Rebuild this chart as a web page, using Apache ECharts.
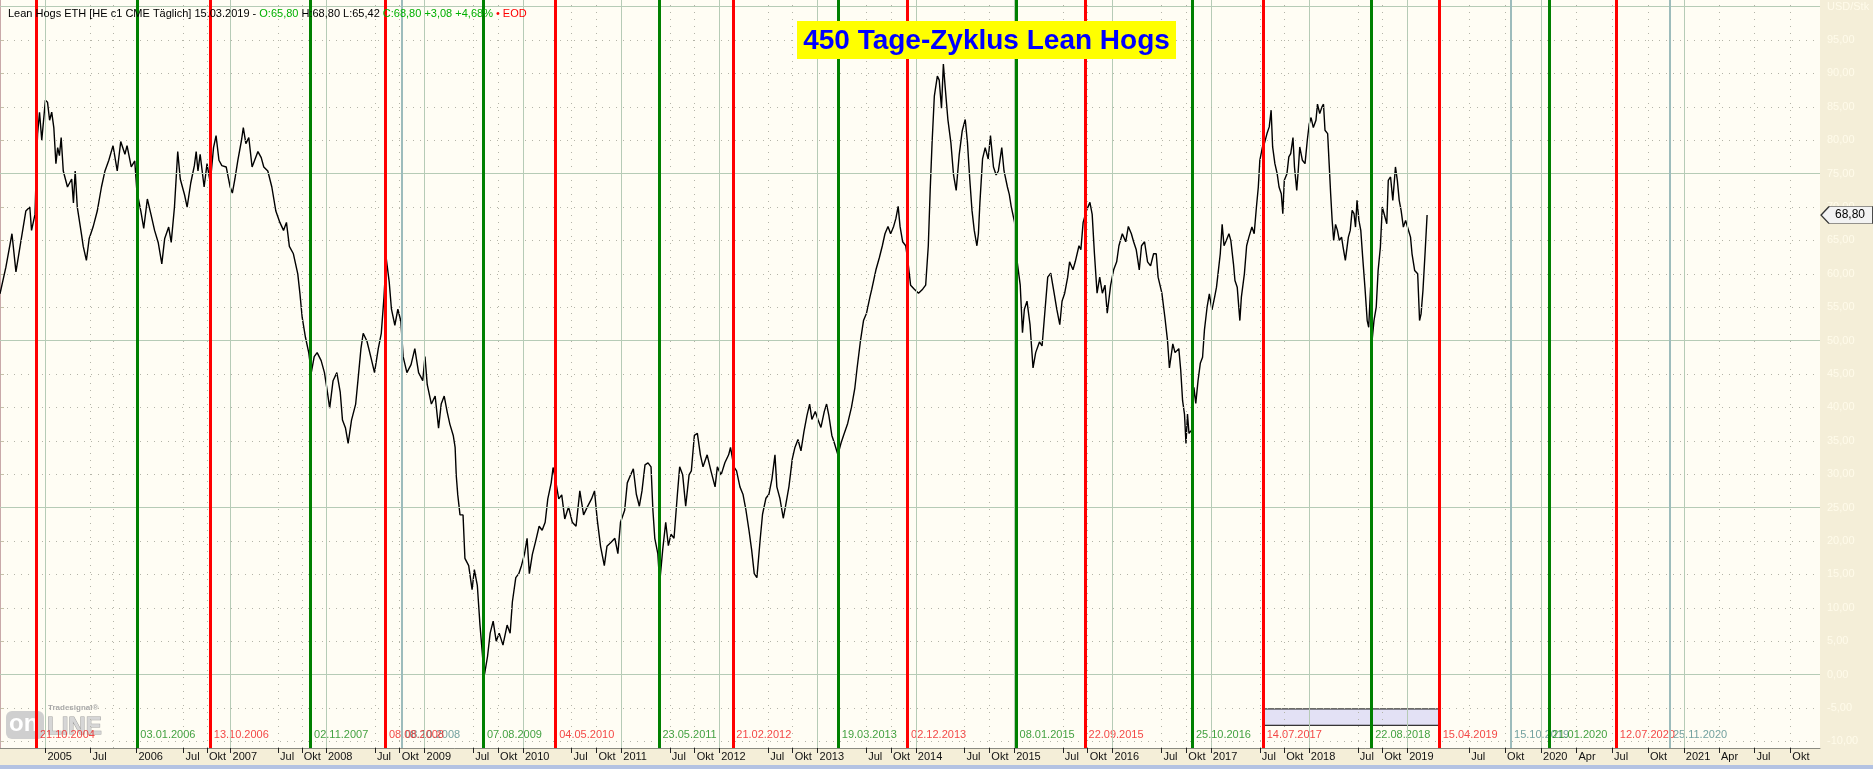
<!DOCTYPE html>
<html>
<head>
<meta charset="utf-8">
<title>450 Tage-Zyklus Lean Hogs</title>
<script src="https://cdn.jsdelivr.net/npm/echarts@6/dist/echarts.min.js"></script>
<style>
  html, body { margin: 0; padding: 0; background: #f4eed8; }
  #chart { width: 1873px; height: 769px; }
</style>
</head>
<body>
<div id="chart"></div>
<script>
// Kursdaten (HE c1 back-adjusted)
const priceDates = [
  '2004-01-01','2004-02-18','2004-04-07','2004-05-08','2004-06-10','2004-07-28','2004-08-29','2004-09-13','2004-10-09','2004-10-22',
  '2004-11-01','2004-11-16','2004-12-03','2005-01-03','2005-01-11','2005-01-19','2005-01-27','2005-02-04','2005-02-12','2005-02-19',
  '2005-02-27','2005-03-07','2005-03-15','2005-03-31','2005-04-16','2005-04-24','2005-05-02','2005-05-10','2005-05-26','2005-06-02',
  '2005-06-15','2005-06-26','2005-07-12','2005-07-28','2005-08-13','2005-08-29','2005-09-13','2005-09-29','2005-10-15','2005-10-31',
  '2005-11-16','2005-11-24','2005-12-10','2005-12-26','2006-01-03','2006-01-18','2006-01-29','2006-02-13','2006-02-25','2006-03-13',
  '2006-03-25','2006-04-09','2006-04-20','2006-05-05','2006-05-16','2006-05-28','2006-06-09','2006-06-20','2006-07-06','2006-07-16',
  '2006-07-29','2006-08-13','2006-08-21','2006-08-28','2006-09-05','2006-09-20','2006-10-01','2006-10-13','2006-10-26','2006-11-05',
  '2006-11-16','2006-11-28','2006-12-14','2006-12-29','2007-01-08','2007-01-17','2007-01-29','2007-02-10','2007-02-18','2007-02-28',
  '2007-03-12','2007-03-23','2007-04-03','2007-04-15','2007-04-27','2007-05-08','2007-05-23','2007-06-07','2007-06-22','2007-07-07',
  '2007-07-22','2007-08-02','2007-08-14','2007-08-29','2007-09-14','2007-09-22','2007-10-02','2007-10-14','2007-10-26','2007-11-06',
  '2007-11-16','2007-11-28','2007-12-13','2007-12-26','2008-01-05','2008-01-15','2008-01-27','2008-02-10','2008-02-22','2008-03-03',
  '2008-03-13','2008-03-24','2008-04-04','2008-04-19','2008-04-29','2008-05-09','2008-05-18','2008-06-01','2008-06-15','2008-06-30',
  '2008-07-14','2008-07-24','2008-08-03','2008-08-12','2008-08-22','2008-09-01','2008-09-12','2008-09-24','2008-10-04','2008-10-14',
  '2008-10-28','2008-11-12','2008-11-26','2008-12-10','2008-12-25','2009-01-02','2009-01-12','2009-01-27','2009-02-10','2009-02-21',
  '2009-03-04','2009-03-16','2009-03-26','2009-04-05','2009-04-17','2009-04-24','2009-04-29','2009-05-05','2009-05-13','2009-05-23',
  '2009-05-31','2009-06-14','2009-06-26','2009-07-06','2009-07-16','2009-07-25','2009-08-04','2009-08-11','2009-08-23','2009-09-02',
  '2009-09-13','2009-09-24','2009-10-06','2009-10-20','2009-11-04','2009-11-14','2009-11-24','2009-12-06','2009-12-17','2009-12-27',
  '2010-01-07','2010-01-16','2010-01-26','2010-02-05','2010-02-17','2010-03-03','2010-03-15','2010-03-25','2010-04-04','2010-04-16',
  '2010-04-23','2010-05-03','2010-05-14','2010-05-26','2010-06-06','2010-06-19','2010-07-04','2010-07-18','2010-08-02','2010-08-16',
  '2010-08-30','2010-09-14','2010-09-24','2010-10-05','2010-10-17','2010-10-30','2010-11-10','2010-11-25','2010-12-09','2010-12-21',
  '2010-12-30','2011-01-14','2011-01-25','2011-02-06','2011-02-16','2011-02-27','2011-03-10','2011-03-21','2011-03-31','2011-04-12',
  '2011-04-22','2011-04-29','2011-05-06','2011-05-18','2011-05-25','2011-06-04','2011-06-16','2011-06-26','2011-07-06','2011-07-17',
  '2011-07-29','2011-08-08','2011-08-18','2011-08-30','2011-09-10','2011-09-20','2011-09-30','2011-10-12','2011-10-24','2011-11-02',
  '2011-11-17','2011-12-01','2011-12-16','2011-12-26','2012-01-07','2012-01-22','2012-02-05','2012-02-13','2012-02-24','2012-03-06',
  '2012-03-18','2012-03-29','2012-04-10','2012-04-20','2012-05-01','2012-05-10','2012-05-20','2012-06-01','2012-06-11','2012-06-22',
  '2012-07-04','2012-07-16','2012-07-26','2012-08-02','2012-08-14','2012-08-25','2012-09-04','2012-09-16','2012-09-28','2012-10-09',
  '2012-10-19','2012-10-31','2012-11-12','2012-11-22','2012-12-02','2012-12-11','2012-12-22','2013-01-02','2013-01-14','2013-01-25',
  '2013-02-04','2013-02-12','2013-02-22','2013-03-05','2013-03-16','2013-03-28','2013-04-08','2013-04-23','2013-05-07','2013-05-18',
  '2013-05-28','2013-06-08','2013-06-20','2013-07-02','2013-07-13','2013-07-22','2013-08-06','2013-08-18','2013-08-29','2013-09-08',
  '2013-09-19','2013-09-30','2013-10-10','2013-10-18','2013-10-26','2013-11-04','2013-11-13','2013-11-23','2013-12-03','2013-12-12',
  '2013-12-26','2014-01-10','2014-01-25','2014-02-06','2014-02-15','2014-02-24','2014-03-03','2014-03-11','2014-03-21','2014-03-28',
  '2014-04-06','2014-04-12','2014-04-21','2014-04-30','2014-05-12','2014-05-21','2014-05-30','2014-06-11','2014-06-23','2014-07-03',
  '2014-07-11','2014-07-20','2014-07-29','2014-08-06','2014-08-15','2014-08-21','2014-08-27','2014-09-05','2014-09-16','2014-09-26',
  '2014-10-05','2014-10-16','2014-10-26','2014-11-04','2014-11-15','2014-11-25','2014-12-07','2014-12-14','2014-12-22','2015-01-02',
  '2015-01-13','2015-01-23','2015-02-01','2015-02-09','2015-02-18','2015-03-02','2015-03-12','2015-03-23','2015-04-04','2015-04-15',
  '2015-04-26','2015-05-06','2015-05-18','2015-05-29','2015-06-09','2015-06-19','2015-06-28','2015-07-08','2015-07-18','2015-07-27',
  '2015-08-07','2015-08-17','2015-08-29','2015-09-07','2015-09-15','2015-09-27','2015-10-09','2015-10-18','2015-10-27','2015-11-05',
  '2015-11-15','2015-11-25','2015-12-04','2015-12-14','2015-12-25','2016-01-06','2016-01-16','2016-01-26','2016-02-07','2016-02-19',
  '2016-03-01','2016-03-11','2016-03-20','2016-03-30','2016-04-10','2016-04-19','2016-04-29','2016-05-11','2016-05-22','2016-06-02',
  '2016-06-11','2016-06-20','2016-07-02','2016-07-14','2016-07-23','2016-08-01','2016-08-12','2016-08-22','2016-09-03','2016-09-11',
  '2016-09-17','2016-09-24','2016-09-30','2016-10-06','2016-10-12','2016-10-21','2016-10-31','2016-11-06','2016-11-15','2016-11-23',
  '2016-12-01','2016-12-08','2016-12-18','2016-12-27','2017-01-05','2017-01-15','2017-01-21','2017-01-27','2017-02-06','2017-02-12',
  '2017-02-19','2017-02-28','2017-03-09','2017-03-16','2017-03-25','2017-03-31','2017-04-10','2017-04-19','2017-04-25','2017-05-05',
  '2017-05-14','2017-05-23','2017-06-02','2017-06-12','2017-06-20','2017-06-27','2017-07-03','2017-07-12','2017-07-19','2017-07-28',
  '2017-08-06','2017-08-13','2017-08-18','2017-08-28','2017-09-05','2017-09-12','2017-09-20','2017-09-26','2017-10-02','2017-10-11',
  '2017-10-18','2017-10-25','2017-11-02','2017-11-08','2017-11-16','2017-11-22','2017-11-28','2017-12-07','2017-12-17','2017-12-26',
  '2018-01-02','2018-01-09','2018-01-17','2018-01-26','2018-02-01','2018-02-09','2018-02-17','2018-02-23','2018-03-01','2018-03-10',
  '2018-03-16','2018-03-22','2018-03-28','2018-04-03','2018-04-10','2018-04-17','2018-04-24','2018-05-02','2018-05-08','2018-05-16',
  '2018-05-26','2018-06-02','2018-06-10','2018-06-16','2018-06-22','2018-06-28','2018-07-05','2018-07-12','2018-07-19','2018-07-27',
  '2018-08-04','2018-08-10','2018-08-17','2018-08-23','2018-08-30','2018-09-07','2018-09-14','2018-09-23','2018-10-01','2018-10-08',
  '2018-10-17','2018-10-23','2018-10-31','2018-11-08','2018-11-17','2018-11-24','2018-12-02','2018-12-09','2018-12-18','2018-12-26',
  '2019-01-02','2019-01-12','2019-01-18','2019-01-29','2019-02-08','2019-02-15','2019-02-21','2019-02-28','2019-03-08','2019-03-15'
];
const priceValues = [
  57,61,66,60.3,64,69.4,70,66.5,68.9,77,
  81,84.2,80,86,85.7,83,84.2,81.9,76.5,78.9,
  77.7,80.4,75.4,73,74.2,70.6,75.4,70,65.9,64.1,
  62,65.3,67,69.4,73,75.4,77,79.2,75.4,79.8,
  77.9,79.2,76,76.9,72.4,69.4,66.8,71.2,68.9,66.5,
  64.7,61.5,65.3,67,64.7,70,78.3,74.2,71.8,70,
  73.6,76.2,78.3,75.4,77.9,73,76.5,73.6,78.9,80.7,
  77,76.2,76,73,72.1,74.2,77,80,81.9,79.5,
  80.4,76,77,78.3,77.4,76,75.4,73,69.4,67.7,
  66.5,67.7,64.1,63,60,57,53.5,50.5,48.2,45.2,
  47.6,48.2,47,45.2,42.3,39.9,44,45.2,42.3,38.1,
  36.9,34.6,38.1,40.5,44,48.8,51.1,49.9,47.6,45.2,
  48.8,51.1,56.4,62.4,58.8,54.7,52.3,54.7,52.9,47.6,
  45.2,46.4,48.8,45.2,44,47.6,43.4,40.5,41.7,36.9,
  40.5,41.7,39.3,37.5,35.8,34,29.8,26.9,23.9,23.9,
  17.4,16.3,12.7,15.7,13.3,7.4,3.3,-0.3,2.7,6.2,
  8,5,6.2,4.4,7.4,6.2,10.9,14.5,15.1,16.3,
  18,20.4,15.1,18,19.8,22.2,21.6,22.8,26.3,28.7,
  31,29.3,26.3,26.9,23.3,25.1,22.8,22.2,27.5,23.9,
  25.1,26.3,27.5,23.3,19.2,16.3,19.2,19.8,20.4,18.1,
  22.8,24.6,28.7,29.9,30.8,27,25.2,27.5,31.4,31.7,
  31.1,24.6,20.4,18.1,13.7,18.7,22.8,19.3,21,20.4,
  27,31.1,29.9,25.2,29.9,30.5,35.8,36.1,32.9,31.1,
  32.9,30.5,28.1,31.1,29.9,31.7,32.9,34,31.1,30.5,
  28.1,27,24.6,21.6,18.7,15.1,14.5,20.4,24,26.4,
  27,29.3,32.9,28.1,26.4,23.4,25.2,28.1,32.3,34,
  35.2,33.5,36.4,38.8,40.5,38.2,39.4,38.2,37,39.4,
  40.5,38.8,35.8,34.6,32.9,34.6,35.8,37.6,40,42.9,
  45.9,50,53,54.1,56.5,57.7,60.6,62.4,64.2,66,
  67.1,66,67.1,68.3,70.1,67.1,64.8,64.2,61.8,58.3,
  57.7,57.1,57.7,58.3,64.2,72.5,79.6,86.6,89.6,89,
  84.8,91.4,87.8,83.1,79.6,74.8,72.5,77.8,81.4,83.1,
  79.6,74.2,69.5,66.5,64.2,66,70.7,77.2,78.9,77.2,
  80.7,76,74.8,75.4,78.9,75.4,73,71.9,70.1,67.7,
  61.8,58.3,51.2,54.7,55.9,52.4,45.9,48.2,49.8,49.2,
  54.7,59.5,60.1,57.1,54.7,52.4,55.9,57.1,59.5,61.8,
  60.6,61.8,64.2,63.6,67.7,69.5,70.7,68.9,63,57.1,
  59.5,57.1,58.3,54.1,58.3,60.6,61.8,64.2,66,64.8,
  67.1,66,64.8,63.6,60.6,64.2,64.8,61.8,61.2,63,
  63,59.5,57.1,53.5,50,45.9,49.5,48.2,48.8,45.6,
  41,39,34.6,39,36.1,36.6,43,40.6,44,46.6,
  47.5,51.6,55,57,54.6,56.5,58,60,63,67.4,
  64.2,65,66,65,61.5,59,58,53,56.5,60,
  64.2,65.5,67,66,70,73,77,79,79.5,81,
  82,84.5,79,76.5,75,73,72,69,74,75,
  77.5,78,80.4,76,72.5,75.5,79,77,76.5,80,
  82.4,83.4,81.9,83,85.4,84,85,85.4,81.5,81,
  76.5,72,68,65,67.4,66.5,65,65.5,64,62,
  65.5,66.5,69.5,69,67,71,68,66.5,62.5,58,
  53,52,58,50,53,55,60.5,64,70,70,
  67.5,74,74.5,71,76,74,71,69.5,67,68,
  67,65.5,63,60.5,60,53,54,57.5,63.5,68.8
];

// Kopfzeile 15.03.2019
const openVal = 65.80, highVal = 68.80, lowVal = 65.42, closeVal = 68.80, chgVal = 3.08, chgPct = 4.68;

// 450-Tage-Zyklus: Hochs (rot), Tiefs (grün), Nebenlinien (grau)
const cycleHighs = ['2004-10-21','2006-10-13','2008-08-08','2010-05-04','2012-02-21','2013-12-02','2015-09-22','2017-07-14','2019-04-15','2020-07-12'];
const cycleLows = ['2006-01-03','2007-11-02','2009-08-07','2011-05-23','2013-03-19','2015-01-08','2016-10-25','2018-08-22','2020-01-21'];
const cycleMinor = ['2008-10-08','2019-10-15','2020-11-25'];
const boxRange = ['2017-07-14','2019-04-15'];

// Achsen
const yearTicks = ['2005','2006','2007','2008','2009','2010','2011','2012','2013','2014','2015','2016','2017','2018','2019','2020','2021'];
const monthTicks = [
  '2005-07','2006-07','2006-10','2007-07','2007-10','2008-07','2008-10','2009-07','2009-10','2010-07','2010-10',
  '2011-07','2011-10','2012-07','2012-10','2013-07','2013-10','2014-07','2014-10','2015-07','2015-10','2016-07','2016-10',
  '2017-07','2017-10','2018-07','2018-10','2019-07','2019-10','2020-04','2020-07','2020-10','2021-04','2021-07','2021-10'
];
const monthNames = { '04': 'Apr', '07': 'Jul', '10': 'Okt' };
const priceTicks = [-10,-5,0,5,10,15,20,25,30,35,40,45,50,55,60,65,70,75,80,85,90,95];

// --- Bar-Skala wie im Tradesignal-Chart: nur Handelstage, Zukunft in Kalendertagen ---
// die ersten Jahre der Historie sind lückenhaft (weniger Bars pro Jahr)
const barDensity = { 2004: 0.46, 2005: 0.93, 2006: 0.96, 2007: 0.97 };
const DAY = 86400000;
function toUTC(s) {
  const p = s.split('-');
  return Date.UTC(+p[0], (+p[1] || 1) - 1, +p[2] || 1);
}
const BASE = toUTC('2004-01-01');
const END = toUTC('2022-06-30');
const LAST_BAR = toUTC(priceDates[priceDates.length - 1]);
const FUTURE_DAY = 261 / 252;
const cum = [];
(function () {
  let acc = 0;
  for (let t = BASE, i = 0; t <= END; t += DAY, i++) {
    cum[i] = acc;
    const dt = new Date(t);
    const dow = dt.getUTCDay();
    const wd = dow > 0 && dow < 6;
    if (t <= LAST_BAR) acc += wd ? (barDensity[dt.getUTCFullYear()] || 1) : 0;
    else acc += FUTURE_DAY;
  }
})();
function barIndex(s) {
  return cum[Math.round((toUTC(s) - BASE) / DAY)];
}
function de(v) {
  return v.toFixed(2).replace('.', ',');
}
function deDate(s) {
  return s.split('-').reverse().join('.');
}

const xMin = barIndex(priceDates[0]);
const xMax = barIndex('2021-12-16');
const yMin = -11, yMax = 101;
const labelY = -9.1; // Höhe der Datumsbeschriftung
const boxTop = -5.15, boxBottom = -7.6;

const priceData = priceDates.map((d, i) => [barIndex(d), priceValues[i]]);
const lastValue = priceValues[priceValues.length - 1];

// Achsenbeschriftung unten
const tickLabels = new Map();
const tickValues = [];
yearTicks.forEach(y => {
  const v = barIndex(y + '-01-01');
  tickValues.push(v);
  tickLabels.set(v.toFixed(3), y);
});
monthTicks.forEach(m => {
  const v = barIndex(m + '-01');
  tickValues.push(v);
  tickLabels.set(v.toFixed(3), monthNames[m.slice(5)]);
});
tickValues.sort((a, b) => a - b);

// Gitter
const solidGrid = { color: '#b6cbb6', width: 1, type: 'solid' };
const dotGrid = { color: '#b4b4a8', width: 1, type: [1, 6] };
const gridMarks = [];
yearTicks.forEach(y => gridMarks.push({ xAxis: barIndex(y + '-01-01'), lineStyle: solidGrid }));
monthTicks.concat(['2005-10']).forEach(m => gridMarks.push({ xAxis: barIndex(m + '-01'), lineStyle: dotGrid }));
priceTicks.concat([100]).forEach(p => {
  gridMarks.push({ yAxis: p, lineStyle: p % 25 === 0 ? solidGrid : dotGrid });
});

const RED = '#ff0000', GREEN = '#008000', TEAL = '#9dbcbc';
const cycleMarks = [];
const cycleLabels = [];
cycleMinor.forEach(d => {
  cycleMarks.push({ xAxis: barIndex(d), lineStyle: { color: TEAL, width: 2, type: 'solid' } });
  cycleLabels.push({ value: [barIndex(d), labelY], label: { formatter: deDate(d), color: '#4f8a8a' } });
});
cycleHighs.forEach(d => {
  cycleMarks.push({ xAxis: barIndex(d), lineStyle: { color: RED, width: 3, type: 'solid' } });
  cycleLabels.push({ value: [barIndex(d), labelY], label: { formatter: deDate(d), color: '#f01818' } });
});
cycleLows.forEach(d => {
  cycleMarks.push({ xAxis: barIndex(d), lineStyle: { color: GREEN, width: 3, type: 'solid' } });
  cycleLabels.push({ value: [barIndex(d), labelY], label: { formatter: deDate(d), color: '#138a13' } });
});

const chart = echarts.init(document.getElementById('chart'));
const FONT = 'Liberation Sans';

const option = {
  animation: false,
  backgroundColor: '#f4eed8',
  textStyle: { fontFamily: FONT },
  title: {
    left: 3,
    top: 3,
    text: '{a|Lean Hogs ETH [HE c1 CME Täglich] 15.03.2019 - }{g|O:' + de(openVal) + '}{a| H:' + de(highVal) +
      ' L:' + de(lowVal) + ' }{g|C:' + de(closeVal) + ' +' + de(chgVal) + ' +' + de(chgPct) + '%}{r| \u2022 EOD}',
    textStyle: {
      fontSize: 11,
      fontWeight: 'normal',
      rich: {
        a: { color: '#000', fontSize: 11, fontFamily: FONT },
        g: { color: '#00b000', fontSize: 11, fontFamily: FONT },
        r: { color: '#ff0000', fontSize: 11, fontFamily: FONT }
      }
    }
  },
  grid: {
    left: 0,
    right: 53,
    top: 0,
    bottom: 21,
    show: true,
    backgroundColor: '#fffdf4',
    borderWidth: 0
  },
  xAxis: {
    type: 'value',
    min: xMin,
    max: xMax,
    splitLine: { show: false },
    axisLine: { show: true, onZero: false, lineStyle: { color: '#8a8a80', width: 1 } },
    axisTick: {
      show: true,
      customValues: tickValues,
      length: 5,
      lineStyle: { color: '#202020' }
    },
    axisLabel: {
      show: true,
      customValues: tickValues,
      formatter: v => tickLabels.get(v.toFixed(3)) || '',
      align: 'left',
      margin: 3,
      padding: [0, 0, 0, 2],
      color: '#101010',
      fontSize: 11,
      fontFamily: FONT
    }
  },
  yAxis: {
    type: 'value',
    position: 'right',
    min: yMin,
    max: yMax,
    splitLine: { show: false },
    axisLine: { show: true, lineStyle: { color: '#c9a9a9', width: 2 } },
    axisTick: {
      show: true,
      customValues: priceTicks.concat([100]),
      length: 4,
      lineStyle: { color: '#c8c0a8' }
    },
    axisLabel: {
      show: true,
      customValues: priceTicks.concat([100]),
      formatter: v => v === 100 ? 'USD/Stk' : de(v),
      color: '#fffbea',
      fontSize: 11,
      margin: 7,
      fontFamily: FONT
    }
  },
  graphic: [
    {
      type: 'group',
      left: 797,
      top: 21,
      z: 100,
      children: [
        { type: 'rect', z: 100, shape: { x: 0, y: 0, width: 379, height: 38 }, style: { fill: '#ffff00' } },
        {
          type: 'text',
          z: 101,
          x: 189.5,
          y: 20,
          style: {
            text: '450 Tage-Zyklus Lean Hogs',
            fill: '#0000ff',
            font: 'bold 28px "Liberation Sans"',
            align: 'center',
            verticalAlign: 'middle'
          }
        }
      ]
    },
    {
      type: 'group',
      left: 6,
      top: 704,
      z: 100,
      children: [
        { type: 'rect', shape: { x: 0, y: 8, width: 38, height: 28, r: 6 }, style: { fill: '#cfcfcf' } },
        { type: 'text', x: 3, y: 9, style: { text: 'on', fill: '#ffffff', font: 'bold 24px "Liberation Sans"' } },
        { type: 'text', x: 41, y: 12, style: { text: 'LINE', fill: '#d6d6d6', stroke: '#a0a0a0', lineWidth: 1, font: 'bold 24px "Liberation Sans"' } },
        { type: 'text', x: 42, y: 1, style: { text: 'Tradesignal\u00ae', fill: '#a8a8a8', font: 'bold 8px "Liberation Sans"' } }
      ]
    },
    {
      type: 'rect',
      left: 0,
      top: 765,
      shape: { width: 1873, height: 4 },
      style: { fill: '#b3c2e2' }
    }
  ],
  series: [
    {
      name: 'gitter',
      type: 'line',
      data: [],
      silent: true,
      z: 1,
      markLine: {
        silent: true,
        symbol: ['none', 'none'],
        label: { show: false },
        data: gridMarks
      }
    },
    {
      name: 'zyklus',
      type: 'line',
      data: [],
      silent: true,
      z: 2,
      markLine: {
        silent: true,
        symbol: ['none', 'none'],
        label: { show: false },
        lineStyle: { type: 'solid' },
        data: cycleMarks
      },
      markArea: {
        silent: true,
        itemStyle: { color: '#e3e1f5', borderColor: '#000', borderWidth: 1 },
        data: [[
          { xAxis: barIndex(boxRange[0]), yAxis: boxTop },
          { xAxis: barIndex(boxRange[1]), yAxis: boxBottom }
        ]]
      }
    },
    {
      name: 'Lean Hogs',
      type: 'line',
      data: priceData,
      showSymbol: false,
      symbol: 'none',
      z: 4,
      lineStyle: { color: '#000000', width: 1.4 },
      markPoint: {
        silent: true,
        symbol: 'path://M0,8 L8,0 L52,0 L52,16 L8,16 Z',
        symbolSize: [52, 17],
        symbolOffset: [27, 0],
        itemStyle: { color: '#f3f3f3', borderColor: '#333', borderWidth: 1 },
        label: {
          show: true,
          position: 'inside',
          offset: [3, 0],
          color: '#000',
          fontSize: 12,
          fontFamily: FONT,
          formatter: () => de(lastValue)
        },
        data: [{ coord: [xMax, lastValue] }]
      }
    },
    {
      name: 'daten',
      type: 'scatter',
      data: cycleLabels,
      symbolSize: 1,
      itemStyle: { color: 'rgba(0,0,0,0)' },
      silent: true,
      z: 3,
      label: {
        show: true,
        position: 'right',
        distance: 3,
        fontSize: 11,
        fontFamily: FONT
      }
    }
  ]
};

chart.setOption(option);
</script>
</body>
</html>
